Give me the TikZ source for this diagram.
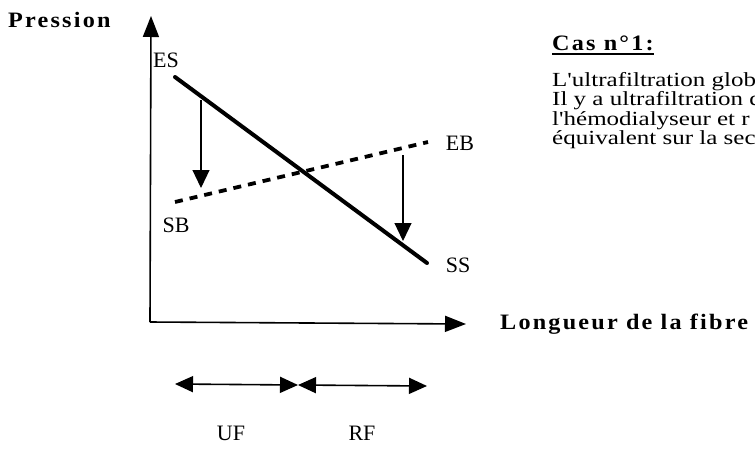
\documentclass[tikz,border=0pt]{standalone}
\usepackage{fontspec}
\setmainfont{Liberation Serif}
\newfontfamily\spaced[LetterSpace=10,FakeStretch=1.1]{Liberation Serif}
\newfontfamily\widefont[FakeStretch=1.25]{Liberation Serif}
\usetikzlibrary{arrows.meta}
\tikzset{
  axisline/.style={line width=1.6pt, -{Triangle[length=21pt,width=16pt]}},
  fluxarrow/.style={line width=1.2pt, -{Triangle[length=18pt,width=17pt]}},
  zonearrow/.style={line width=1.6pt, {Triangle[length=18pt,width=16pt]}-{Triangle[length=18pt,width=16pt]}},
  sangline/.style={line width=4pt, line cap=round},
  bainline/.style={line width=3.8pt, dash pattern=on 8pt off 7pt},
  lbl/.style={inner sep=0pt, font=\fontsize{22}{22}\selectfont},
  axlbl/.style={inner sep=0pt, anchor=base west, font=\spaced\bfseries\fontsize{22}{22}\selectfont},
  para/.style={inner sep=0pt, anchor=base west, font=\widefont\fontsize{20}{20}\selectfont}
}
\begin{document}
\begin{tikzpicture}[x=1pt,y=-1pt]
\useasboundingbox (0,0) rectangle (755,456);
\clip (0,0) rectangle (755,456);
% axes
\coordinate (O) at (150,322);
\coordinate (Ytip) at (151,16);
\coordinate (Xtip) at (466,324);
\draw[axisline] (O) -- (Ytip);
\draw[axisline] (O) -- (Xtip);
\node[axlbl] (pression) at (8,27) {Pression};
\node[axlbl] (longueur) at (500,329) {Longueur de la fibre};
% lines
\coordinate (SBp) at (175,202);
\coordinate (EBp) at (428,142);
\coordinate (ESp) at (175,77);
\coordinate (SSp) at (427,263);
\draw[bainline] (SBp) -- (EBp);
\draw[sangline] (ESp) -- (SSp);
\node[lbl] (ES) at (166,60) {ES};
\node[lbl] (EB) at (460,143) {EB};
\node[lbl] (SB) at (176,225) {SB};
\node[lbl] (SS) at (458,265) {SS};
% flux arrows
\coordinate (a1s) at (201,100);
\coordinate (a1e) at (201,188);
\coordinate (a2s) at (403,155);
\coordinate (a2e) at (403,241);
\draw[fluxarrow] (a1s) -- (a1e);
\draw[fluxarrow] (a2s) -- (a2e);
% zones
\coordinate (u1) at (175,384);
\coordinate (u2) at (298,385);
\coordinate (u3) at (427,386);
\draw[zonearrow] (u1) -- (u2);
\draw[zonearrow] (u2) -- (u3);
\node[lbl] (UF) at (231,433) {UF};
\node[lbl] (RF) at (362,433) {RF};
% text
\node[axlbl] (cas) at (552,50) {Cas n°1:};
\draw[line width=1.2pt] ([yshift=-4pt]cas.base west) -- ([yshift=-4pt]cas.base east);
\node[para] (l1) at (552,86) {L'ultrafiltration globale};
\node[para] (l2) at (552,105.5) {Il y a ultrafiltration dans};
\node[para] (l3) at (552,125) {l'hémodialyseur et r};
\node[para] (l4) at (552,144.5) {équivalent sur la seconde};
\end{tikzpicture}
\end{document}
